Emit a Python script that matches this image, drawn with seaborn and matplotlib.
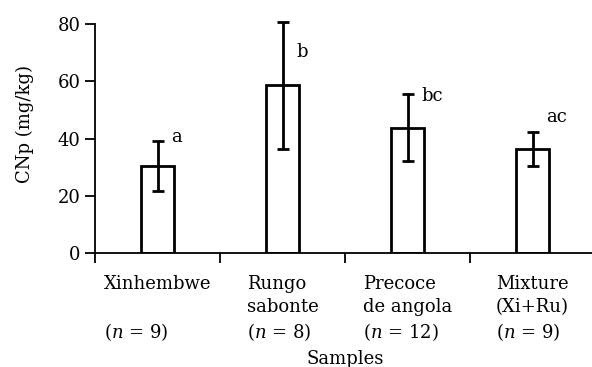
import matplotlib
matplotlib.use("Agg")
import matplotlib.pyplot as plt
import seaborn as sns
import pandas as pd

# data
samples = ["Xinhembwe", "Rungo sabonte", "Precoce de angola", "Mixture (Xi+Ru)"]
tick_labels = ["Xinhembwe\n\n($n$ = 9)",
               "Rungo\nsabonte\n($n$ = 8)",
               "Precoce\nde angola\n($n$ = 12)",
               "Mixture\n(Xi+Ru)\n($n$ = 9)"]
cnp_mean = [30.4, 58.6, 43.8, 36.4]
cnp_err = [8.9, 22.1, 11.8, 6.0]
letters = ["a", "b", "bc", "ac"]
letter_y = [40.5, 70.2, 54.8, 47.4]

sns.set_style("ticks")
plt.rcParams["font.family"] = ["DejaVu Serif"]
plt.rcParams["mathtext.fontset"] = "dejavuserif"
plt.rcParams["text.color"] = "black"
plt.rcParams["axes.labelcolor"] = "black"
plt.rcParams["xtick.color"] = "black"
plt.rcParams["ytick.color"] = "black"
plt.rcParams["axes.edgecolor"] = "black"

fs = 13

df = pd.DataFrame({"Samples": samples, "CNp": cnp_mean})

fig = plt.figure(figsize=(5.92, 3.67), dpi=100)
ax = fig.add_axes([95 / 592, 114 / 367, 500 / 592, 229 / 367])

sns.barplot(data=df, x="Samples", y="CNp", ax=ax, width=0.27,
            color="white", edgecolor="black", linewidth=2, errorbar=None)
eb = ax.errorbar(range(len(samples)), cnp_mean, yerr=cnp_err, fmt="none",
                 ecolor="black", elinewidth=2, capsize=4, capthick=2)
for artist in eb.lines[1] + eb.lines[2]:
    artist.set_clip_on(False)

for i, (lab, ly) in enumerate(zip(letters, letter_y)):
    ax.text(i + 0.11, ly, lab, fontsize=fs, va="center", ha="left")

ax.set_xlim(-0.5, 3.5)
ax.set_ylim(0, 80)
ax.set_yticks([0, 20, 40, 60, 80])
ax.tick_params(axis="y", labelsize=fs, length=7, width=1.3)

# boundary ticks, labels at category centres
ax.set_xticks([-0.5, 0.5, 1.5, 2.5])
ax.set_xticklabels([])
ax.tick_params(axis="x", which="major", length=7, width=1.3, direction="out")
ax.set_xticks(range(len(samples)), minor=True)
ax.set_xticklabels(tick_labels, minor=True, fontsize=fs,
                   multialignment="left", linespacing=1.32)
ax.tick_params(axis="x", which="minor", length=0, pad=16)

ax.set_xlabel("Samples", fontsize=fs, labelpad=0)
ax.set_ylabel("CNp (mg/kg)", fontsize=fs)
ax.yaxis.set_label_coords(-0.122, 0.565)
ax.xaxis.set_label_coords(0.5, -0.425)

sns.despine(ax=ax)
for s in ["left", "bottom"]:
    ax.spines[s].set_linewidth(1.3)

fig.savefig("out.png", dpi=100)
